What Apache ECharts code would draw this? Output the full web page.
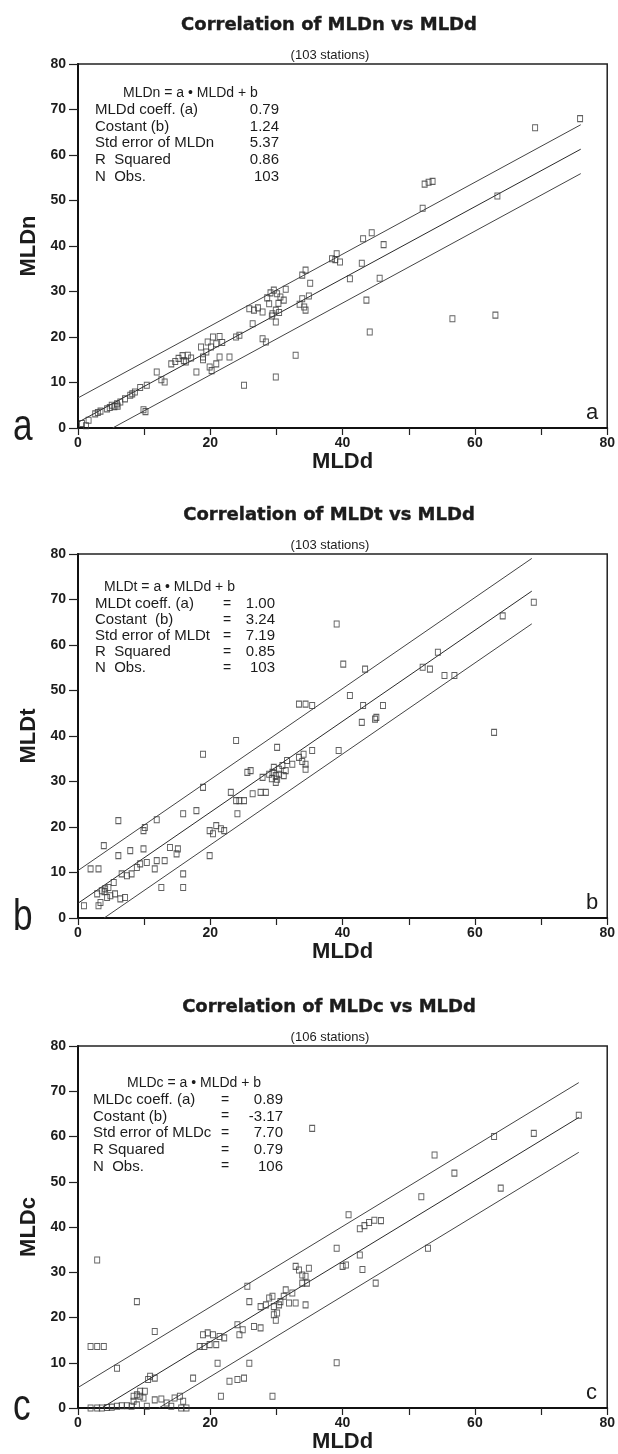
<!DOCTYPE html>
<html><head><meta charset="utf-8">
<script src="https://cdn.jsdelivr.net/npm/echarts@6/dist/echarts.min.js"></script>
<style>html,body{margin:0;padding:0;background:#fff}#c{width:618px;height:1454px}</style>
</head><body><div id="c"></div>
<script>
// ---------- data ----------
const chartTitles = ['Correlation of MLDn vs MLDd', 'Correlation of MLDt vs MLDd', 'Correlation of MLDc vs MLDd'];
const subTitles = ['(103 stations)', '(103 stations)', '(106 stations)'];
const yNames = ['MLDn', 'MLDt', 'MLDc'];
const xName = 'MLDd';
const panelLetters = ['a', 'b', 'c'];
const equations = ['MLDn = a \u2022 MLDd + b', 'MLDt = a \u2022 MLDd + b', 'MLDc = a \u2022 MLDd + b'];
const statLabelsA = ['MLDd coeff. (a)', 'Costant (b)', 'Std error of MLDn', 'R  Squared', 'N  Obs.'];
const statLabelsB = ['MLDt coeff. (a)', 'Costant  (b)', 'Std error of MLDt', 'R  Squared', 'N  Obs.'];
const statLabelsC = ['MLDc coeff. (a)', 'Costant (b)', 'Std error of MLDc', 'R Squared', 'N  Obs.'];
const statValuesA = ['0.79', '1.24', '5.37', '0.86', '103'];
const statValuesB = ['1.00', '3.24', '7.19', '0.85', '103'];
const statValuesC = ['0.89', '-3.17', '7.70', '0.79', '106'];
const fitSlopes = [0.79, 1.00, 0.89];
const fitIntercepts = [1.24, 3.24, -3.17];
const fitStdErr = [5.37, 7.19, 7.70];
const fitXEnd = [76, 68.6, 75.7];

// MLDd (x), MLDn (y)
const pointsA = [
 [0.6,1.0],[1.2,0.5],[1.6,1.7],[2.6,3.1],[3.0,3.4],[3.4,3.7],[4.4,4.2],[4.8,4.5],[5.1,5.0],[5.9,5.3],
 [6.4,5.7],[6.0,4.8],[7.1,6.4],[7.9,7.2],[8.6,7.9],[9.4,8.9],[10.4,9.4],[9.9,4.0],[10.2,3.6],[11.9,12.3],
 [13.1,10.1],[12.6,10.6],[14.1,14.1],[14.7,14.6],[15.2,15.3],[15.8,15.9],[16.3,14.5],[17.1,15.4],[16.6,16.0],[17.9,12.3],
 [18.9,15.6],[18.6,17.8],[19.4,16.7],[20.1,17.8],[20.9,18.5],[19.6,18.9],[20.4,20.0],[21.4,20.1],[18.9,15.0],[19.9,13.4],
 [20.9,14.1],[21.4,15.6],[20.2,12.6],[22.9,15.6],[23.9,20.0],[24.4,20.4],[25.1,9.4],[25.9,26.2],[26.6,25.9],[26.4,22.9],
 [27.9,25.5],[28.6,28.6],[29.1,29.7],[29.6,30.3],[30.1,29.5],[30.6,28.8],[31.1,28.1],[28.9,27.3],[27.9,19.6],[28.4,18.9],
 [29.4,25.1],[29.9,25.9],[29.9,23.3],[29.9,11.2],[30.4,25.4],[32.9,16.0],[33.9,33.6],[34.4,34.7],[33.9,28.4],[34.4,25.9],
 [34.9,29.0],[34.2,26.6],[35.1,31.8],[33.5,27.2],[38.4,37.2],[39.1,38.3],[39.6,36.5],[38.9,37.0],[41.1,32.8],[43.1,41.6],
 [44.4,42.9],[46.2,40.3],[42.9,36.2],[43.6,28.1],[45.6,32.9],[44.1,21.1],[52.1,48.3],[56.6,24.0],[63.1,24.8],[52.4,53.6],
 [53.0,54.0],[53.6,54.2],[69.1,66.0],[75.9,68.0],[63.4,51.0],[30.3,27.4],[31.4,30.5],[29.3,24.6],[16.0,14.8],[21.8,18.8],
 [8.2,7.5],[5.5,4.7],[27.2,26.4]
];
// MLDd (x), MLDt (y)
const pointsB = [
 [0.9,2.7],[3.1,2.7],[3.4,3.4],[1.9,10.8],[3.1,10.8],[3.9,15.9],[6.1,13.7],[7.9,14.8],[9.9,15.2],[9.9,19.2],
 [10.1,19.9],[6.1,21.4],[11.9,21.6],[15.9,22.9],[17.9,23.6],[18.9,28.7],[18.9,36.0],[23.9,39.0],
 [2.9,5.3],[3.6,6.0],[4.1,6.4],[4.6,6.7],[4.9,4.9],[4.4,4.5],[5.6,5.3],[6.4,4.2],[7.1,4.5],[5.4,7.8],
 [6.6,9.7],[7.4,9.3],[8.1,9.7],[8.9,11.1],[9.4,11.9],[10.4,12.2],[11.6,10.8],[11.9,12.6],[13.1,12.6],[12.6,6.7],
 [13.9,15.5],[14.9,14.1],[15.1,15.2],[15.9,9.7],[15.9,6.7],[19.9,13.7],[19.9,19.2],[20.9,20.3],[21.6,19.6],[20.4,18.5],
 [22.1,19.2],[23.1,27.6],[23.9,25.8],[24.4,25.8],[25.1,25.8],[24.1,22.9],[26.4,27.3],[27.6,27.6],[28.4,27.6],[25.6,32.0],
 [26.1,32.4],[27.9,30.9],[28.9,31.6],[29.4,32.0],[29.9,31.3],[30.1,30.5],[30.4,31.6],[29.6,33.1],[30.1,37.5],[30.4,32.7],
 [31.1,31.3],[31.4,32.4],[29.9,29.8],[31.6,34.6],[32.4,33.8],[33.4,35.3],[34.1,36.0],[34.4,33.8],[34.4,32.7],[35.4,36.8],
 [39.4,36.8],[33.4,47.0],[34.4,47.0],[35.4,46.7],[40.1,55.8],[43.4,54.7],[41.1,48.9],[43.1,46.7],[46.1,46.7],[42.9,43.0],
 [44.9,43.7],[45.1,44.1],[39.1,64.6],[54.4,58.4],[52.1,55.1],[53.2,54.7],[55.4,53.3],[56.9,53.3],[64.2,66.4],[68.9,69.4],
 [62.9,40.8],[30.9,33.5],[29.3,30.6],[4.0,5.8],[33.9,34.4]
];
// MLDd (x), MLDc (y)
const pointsC = [
 [1.9,0],[2.9,0],[3.6,0],[4.4,0.1],[5.1,0.2],[5.9,0.4],[6.6,0.5],[7.4,0.5],[8.1,0.4],[8.9,0.7],
 [10.4,0.4],[8.4,1.5],[9.4,2.6],[8.4,2.6],[8.9,2.9],[9.4,3.7],[10.1,3.7],[9.9,2.2],[10.9,7.0],[11.6,6.6],
 [10.6,6.3],[11.6,1.8],[12.6,2.0],[13.4,1.1],[14.1,0.4],[14.6,2.2],[15.4,2.6],[15.9,1.5],[15.6,0],[16.4,0],
 [17.4,6.6],[1.9,13.6],[2.9,13.6],[3.9,13.6],[2.9,32.7],[8.9,23.5],[5.9,8.8],[11.6,16.9],[18.4,13.6],[19.1,13.6],
 [19.9,14.0],[20.9,14.0],[18.9,16.2],[19.6,16.6],[20.4,16.2],[21.4,15.8],[22.1,15.5],[21.1,9.9],[21.6,2.6],[22.9,5.9],
 [24.1,6.3],[25.1,6.6],[25.9,9.9],[24.1,18.4],[24.4,16.2],[24.9,17.3],[25.6,26.9],[25.9,23.5],[26.6,18.0],[27.6,17.7],
 [27.6,22.4],[28.4,22.8],[28.9,24.3],[29.4,24.7],[29.6,22.4],[29.6,20.6],[29.9,19.4],[30.1,21.0],[30.4,22.8],[30.6,23.5],
 [31.1,24.7],[31.4,26.1],[31.9,23.2],[32.4,25.4],[29.4,2.6],[32.9,31.3],[33.4,30.5],[33.9,29.4],[34.4,29.1],[33.9,27.6],
 [34.4,22.8],[32.9,23.2],[34.9,30.9],[34.6,27.6],[39.1,35.3],[39.1,10.0],[40.0,31.3],[40.5,31.6],[40.9,42.7],[42.6,33.8],
 [43.0,30.6],[42.6,39.6],[43.3,40.3],[44.0,41.0],[44.8,41.5],[45.8,41.4],[45.0,27.6],[35.4,61.8],[51.9,46.7],[53.9,55.9],
 [56.9,51.9],[52.9,35.3],[62.9,60.0],[63.9,48.6],[68.9,60.7],[75.7,64.7]
];

// ---------- layout ----------
const GRID_LEFT = 78, GRID_W = 533;
const gridTops = [64, 554, 1046];
const gridHeights = [364, 364, 362];
const FONT = '"Liberation Sans", Arial, sans-serif';
const TITLE_FONT = '"DejaVu Sans", "Liberation Sans", sans-serif';
const INK = '#1c1c1c';

const chart = echarts.init(document.getElementById('c'), null, {renderer: 'canvas'});
const allPoints = [pointsA, pointsB, pointsC];
const statLabels = [statLabelsA, statLabelsB, statLabelsC];
const statValues = [statValuesA, statValuesB, statValuesC];

const grids = [], xAxes = [], yAxes = [], series = [], titles = [], graphics = [];

for (let i = 0; i < 3; i++) {
  const top = gridTops[i], h = gridHeights[i], bottom = top + h;
  grids.push({left: GRID_LEFT, top: top, width: GRID_W, height: h, show: true,
    borderColor: '#222', borderWidth: 1.5, backgroundColor: '#fff'});
  xAxes.push({type: 'value', gridIndex: i, min: 0, max: 80, interval: 10,
    name: xName, nameLocation: 'middle', nameGap: 22,
    nameTextStyle: {fontFamily: FONT, fontWeight: 'bold', fontSize: 22, color: INK},
    axisLine: {show: true, onZero: false, lineStyle: {color: '#111', width: 2}},
    axisTick: {show: true, inside: false, length: 7, lineStyle: {color: '#222', width: 1.2}},
    axisLabel: {margin: 8, fontFamily: FONT, fontSize: 14, fontWeight: 'bold', color: INK,
      formatter: v => (v % 20 === 0 ? String(v) : '')},
    splitLine: {show: false}});
  yAxes.push({type: 'value', gridIndex: i, min: 0, max: 80, interval: 10,
    name: yNames[i], nameLocation: 'middle', nameGap: 37, nameRotate: 90,
    nameTextStyle: {fontFamily: FONT, fontWeight: 'bold', fontSize: 22, color: INK},
    axisLine: {show: true, onZero: false, lineStyle: {color: '#111', width: 2}},
    axisTick: {show: true, inside: false, length: 9, lineStyle: {color: '#222', width: 1.2}},
    axisLabel: {margin: 12, fontFamily: FONT, fontSize: 14, fontWeight: 'bold', color: INK},
    splitLine: {show: false}});

  series.push({type: 'scatter', xAxisIndex: i, yAxisIndex: i, data: allPoints[i],
    symbol: 'rect', symbolSize: [5, 6],
    itemStyle: {color: 'rgba(255,255,255,0)', borderColor: '#3a3a3a', borderWidth: 1},
    z: 3, silent: true});

  const a = fitSlopes[i], b = fitIntercepts[i], se = fitStdErr[i], xe = fitXEnd[i];
  [1, 0, -1].forEach(k => {
    const bb = b + k * se;
    const x0 = Math.max(0, -bb / a);
    series.push({type: 'line', xAxisIndex: i, yAxisIndex: i, showSymbol: false, silent: true,
      data: [[x0, a * x0 + bb], [xe, a * xe + bb]],
      lineStyle: {color: k === 0 ? '#2a2a2a' : '#444', width: 1}, z: 2});
  });

  titles.push({text: chartTitles[i], left: 324, top: top - 44, textAlign: 'center', textVerticalAlign: 'middle',
    textStyle: {fontFamily: TITLE_FONT, fontWeight: 'bold', fontSize: 18, color: INK,
      textBorderColor: INK, textBorderWidth: 0.4}});
  titles.push({text: subTitles[i], left: 325, top: top - 14, textAlign: 'center', textVerticalAlign: 'middle',
    textStyle: {fontFamily: FONT, fontWeight: 'normal', fontSize: 13, color: INK}});

  // big panel letter and corner letter
  graphics.push({type: 'text', x: 13, y: bottom + 22, scaleX: 0.8, style: {text: panelLetters[i],
    font: '44px ' + FONT, fill: INK, textVerticalAlign: 'bottom'}});
  graphics.push({type: 'text', x: 586, y: bottom - 4, style: {text: panelLetters[i],
    font: '22px ' + FONT, fill: INK, textVerticalAlign: 'bottom'}});
}

// statistics text boxes
const boxCfg = [
  {eqX: 123, eqY: 93, rowX: 95, rowY: 110, eqSign: null, valRight: 279, gap: 16.6},
  {eqX: 104, eqY: 587, rowX: 95, rowY: 604, eqSign: 227, valRight: 275, gap: 16},
  {eqX: 127, eqY: 1083, rowX: 93, rowY: 1100, eqSign: 225, valRight: 283, gap: 16.6}
];
boxCfg.forEach((c, i) => {
  graphics.push({type: 'text', x: c.eqX, y: c.eqY, style: {text: equations[i], font: '14px ' + FONT,
    fill: INK, textVerticalAlign: 'middle'}});
  statLabels[i].forEach((lab, r) => {
    const y = c.rowY + r * c.gap;
    graphics.push({type: 'text', x: c.rowX, y: y, style: {text: lab, font: '15px ' + FONT, fill: INK,
      textVerticalAlign: 'middle'}});
    if (c.eqSign) graphics.push({type: 'text', x: c.eqSign, y: y, style: {text: '=', font: '14px ' + FONT,
      fill: INK, textAlign: 'center', textVerticalAlign: 'middle'}});
    graphics.push({type: 'text', x: c.valRight, y: y, style: {text: statValues[i][r], font: '15px ' + FONT,
      fill: INK, textAlign: 'right', textVerticalAlign: 'middle'}});
  });
});

chart.setOption({
  animation: false,
  backgroundColor: '#fff',
  title: titles,
  grid: grids, xAxis: xAxes, yAxis: yAxes, series: series,
  graphic: graphics
});
</script>
</body></html>
